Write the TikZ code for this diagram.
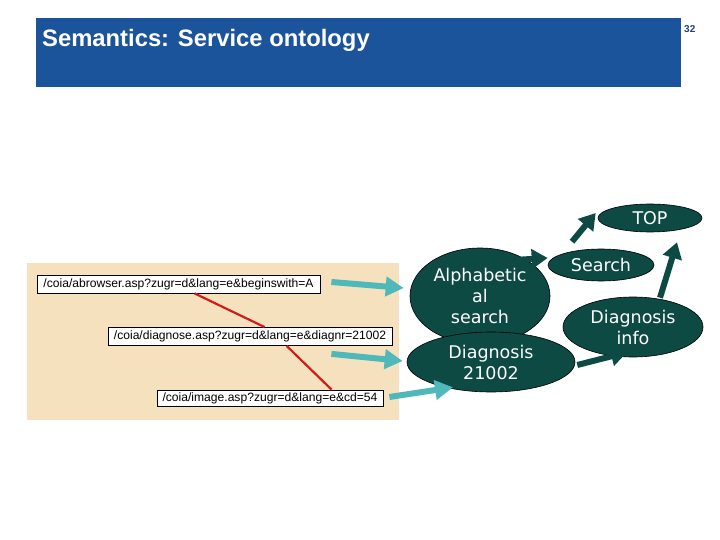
\documentclass[tikz,border=0pt]{standalone}
\usepackage{fontspec}
\setmainfont{Liberation Sans}
\newfontfamily\verd{DejaVu Sans}
\usetikzlibrary{shapes.geometric,arrows.meta,calc}
\definecolor{hdrblue}{RGB}{27,84,155}
\definecolor{pagenum}{RGB}{35,65,130}
\definecolor{beige}{RGB}{246,225,190}
\definecolor{darkteal}{RGB}{13,74,68}
\definecolor{lteal}{RGB}{78,184,186}
\definecolor{redline}{RGB}{205,30,30}
\begin{document}
\begin{tikzpicture}[x=1pt,y=-1pt,
 urlbox/.style={draw=black,fill=white,line width=0.8pt,font=\fontsize{12.1}{13}\selectfont,inner sep=0pt,minimum height=18pt},
 oval/.style={ellipse,draw=black,line width=0.6pt,fill=darkteal,text=white,font=\verd\fontsize{17.5}{21}\selectfont,align=center,inner sep=0pt},
 tealarrow/.style={lteal,line width=6pt,-{Triangle[length=18pt,width=19pt]}},
 darrow/.style={darkteal,line width=6pt,-{Triangle[length=16pt,width=19pt]}},
 redl/.style={redline,line width=2.2pt}]
\useasboundingbox (0,0) rectangle (720,540);
\fill[white] (0,0) rectangle (720,540);
% header
\fill[hdrblue] (36,18) rectangle (681,87);
\node[anchor=base west,text=white,font=\bfseries\fontsize{23.8}{26}\selectfont,inner sep=0pt] (title) at (42,47) {Semantics: Service ontology};
\node[anchor=base west,text=pagenum,font=\bfseries\fontsize{10}{12}\selectfont,inner sep=0pt] (pnum) at (684,33) {32};
% beige panel
\fill[beige] (27,263) rectangle (399,420);
\node[urlbox,minimum width=283pt] (b1) at (178.5,284) {/coia/abrowser.asp?zugr=d\&lang=e\&beginswith=A};
\node[urlbox,minimum width=284pt] (b2) at (250,336.5) {/coia/diagnose.asp?zugr=d\&lang=e\&diagnr=21002};
\node[urlbox,minimum width=226pt,minimum height=16pt] (b3) at (270,398) {/coia/image.asp?zugr=d\&lang=e\&cd=54};
\draw[redl] ($(b1.south west)+(158,0)$) -- ($(b2.north west)+(157,0)$);
\draw[redl] ($(b2.south west)+(179,0)$) -- ($(b3.north west)+(175,0)$);
% ellipses
\node[oval,minimum width=140pt,minimum height=96pt] (alpha) at (480,296) {Alphabetic\\al\\search};
\node[oval,minimum width=168pt,minimum height=60pt] (d21) at (491,362) {Diagnosis\\21002};
\node[oval,minimum width=106pt,minimum height=32pt] (search) at (601,265) {Search};
\node[oval,minimum width=104pt,minimum height=28pt] (top) at (650,218) {TOP};
\node[oval,minimum width=140pt,minimum height=60pt] (dinfo) at (633,327) {Diagnosis\\info};
% teal arrows
\draw[tealarrow] ($(b1.east)+(11,-2)$) -- ($(alpha.west)+(-6,-8)$);
\draw[tealarrow] ($(b2.south east)+(-61,8)$) -- ($(d21.west)+(-4,-1)$);
\draw[tealarrow] ($(b3.east)+(6,-1)$) -- ($(d21.south)+(-38,-5)$);
% dark arrows
\draw[darrow] ($(alpha.center)+(34,-36)$) -- ($(search.west)+(0,-7)$);
\draw[darrow] ($(search.north)+(-29,-7)$) -- ($(top.west)+(-2,-5)$);
\draw[darrow] ($(d21.east)+(2,3)$) -- ($(dinfo.south)+(-6,-5)$);
\draw[darrow] ($(dinfo.north)+(27,1)$) -- ($(top.south)+(27,10)$);
\end{tikzpicture}
\end{document}
